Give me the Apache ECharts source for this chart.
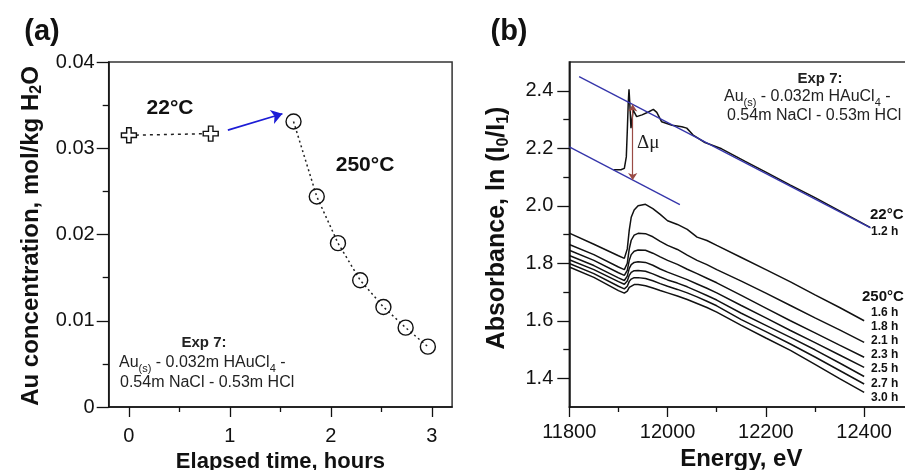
<!DOCTYPE html>
<html><head><meta charset="utf-8">
<script src="https://cdn.jsdelivr.net/npm/echarts@6/dist/echarts.min.js"></script>
<style>html,body{margin:0;padding:0;background:#fff}#c{width:905px;height:470px}</style>
</head><body><div id="c"></div>
<script>
// ---------- Panel (a): Au concentration vs elapsed time ----------
const timeCross = [0, 0.81];
const concCross = [0.0315, 0.0317];
const timeCircle = [1.63, 1.86, 2.07, 2.29, 2.52, 2.74, 2.96];
const concCircle = [0.0331, 0.0244, 0.0190, 0.0147, 0.0116, 0.0092, 0.0070];
const arrowTime = [0.98, 1.52];
const arrowConc = [0.0321, 0.0340];
const aXTicks = [0, 1, 2, 3];
const aXMinor = [0.5, 1.5, 2.5];
const aYTicks = [0, 0.01, 0.02, 0.03, 0.04];
const aYMinor = [0.005, 0.015, 0.025, 0.035];

// ---------- Panel (b): XANES spectra ----------
const energy250 = [11800, 11850, 11900, 11912, 11918, 11922, 11926, 11932, 11940, 11955, 11970, 11985, 12000, 12020, 12040, 12060, 12080, 12100, 12150, 12200, 12250, 12300, 12350, 12400];
const abs16 = [1.905,1.866,1.826,1.817,1.850,1.915,1.960,1.985,2.000,2.005,1.990,1.970,1.948,1.935,1.918,1.891,1.879,1.862,1.820,1.778,1.735,1.690,1.646,1.600];
const abs18 = [1.865,1.830,1.787,1.778,1.800,1.850,1.880,1.898,1.904,1.903,1.892,1.876,1.862,1.848,1.828,1.810,1.795,1.778,1.738,1.696,1.653,1.610,1.568,1.525];
const abs21 = [1.845,1.810,1.767,1.758,1.775,1.810,1.830,1.842,1.846,1.845,1.835,1.822,1.810,1.796,1.779,1.764,1.748,1.732,1.688,1.644,1.600,1.558,1.515,1.473];
const abs23 = [1.827,1.792,1.749,1.740,1.755,1.782,1.795,1.803,1.805,1.803,1.793,1.780,1.769,1.756,1.743,1.728,1.713,1.697,1.653,1.610,1.566,1.524,1.481,1.438];
const abs25 = [1.812,1.778,1.736,1.727,1.738,1.758,1.768,1.774,1.775,1.772,1.763,1.752,1.742,1.731,1.718,1.703,1.688,1.672,1.626,1.584,1.542,1.499,1.453,1.406];
const abs27 = [1.799,1.764,1.720,1.711,1.720,1.737,1.745,1.750,1.750,1.747,1.739,1.729,1.720,1.709,1.697,1.683,1.668,1.652,1.604,1.562,1.519,1.474,1.427,1.380];
const abs30 = [1.787,1.751,1.705,1.696,1.703,1.716,1.722,1.726,1.726,1.722,1.714,1.705,1.697,1.686,1.674,1.660,1.646,1.630,1.584,1.540,1.497,1.448,1.399,1.351];
const energy22 = [11890, 11905, 11912, 11916, 11918, 11920, 11921.5, 11923, 11925.5, 11930, 11937, 11948, 11961, 11971, 11978, 11988, 12009, 12029, 12039, 12052, 12076, 12110, 12157, 12200, 12250, 12300, 12350, 12412];
const abs22 = [2.125,2.125,2.13,2.17,2.26,2.36,2.405,2.36,2.27,2.333,2.31,2.316,2.326,2.335,2.325,2.292,2.28,2.275,2.27,2.246,2.22,2.198,2.155,2.117,2.072,2.028,1.982,1.925];
const fitUpperE = [11820, 12413];
const fitUpperA = [2.449, 1.923];
const fitLowerE = [11800, 12025];
const fitLowerA = [2.205, 2.004];
const deltaMuE = [11929, 11929];
const deltaMuA = [2.352, 2.090];
const bXTicks = [11800, 12000, 12200, 12400];
const bXMinor = [11900, 12100, 12300];
const bYTicks = [1.4, 1.6, 1.8, 2.0, 2.2, 2.4];
const bYMinor = [1.5, 1.7, 1.9, 2.1, 2.3];
const curveLabels250 = ['1.6 h', '1.8 h', '2.1 h', '2.3 h', '2.5 h', '2.7 h', '3.0 h'];

const FONT = 'Liberation Sans, Arial, sans-serif';
const zip = (xs, ys) => xs.map((x, i) => [x, ys[i]]);
const curves250 = [abs16, abs18, abs21, abs23, abs25, abs27, abs30];

const chart = echarts.init(document.getElementById('c'), null, {renderer: 'canvas'});

function majorAxis(grid, min, max, pos, ticks, tickLen, margin, fmt, extra) {
  return Object.assign({
    type: 'value', gridIndex: grid, min: min, max: max, position: pos,
    axisLine: {show: true, onZero: false, lineStyle: {color: '#111', width: 1.5}},
    axisTick: {show: true, inside: false, length: tickLen, customValues: ticks, lineStyle: {color: '#111', width: 1.3}},
    axisLabel: {show: true, customValues: ticks, margin: margin, fontSize: 20, fontFamily: FONT, color: '#111', formatter: fmt},
    splitLine: {show: false}
  }, extra || {});
}
function minorAxis(grid, min, max, pos, ticks, tickLen) {
  return {
    type: 'value', gridIndex: grid, min: min, max: max, position: pos,
    axisLine: {show: false, onZero: false},
    axisTick: {show: true, inside: false, length: tickLen, customValues: ticks, lineStyle: {color: '#111', width: 1.3}},
    axisLabel: {show: false}, splitLine: {show: false}
  };
}

const crossPath = 'path://M3.5,0 H6.5 V3.5 H10 V6.5 H6.5 V10 H3.5 V6.5 H0 V3.5 H3.5 Z';

const series = [
  {
    type: 'line', xAxisIndex: 0, yAxisIndex: 0, data: zip(timeCross, concCross),
    symbol: crossPath, symbolSize: 15, showSymbol: true, z: 5,
    itemStyle: {color: '#fff', borderColor: '#111', borderWidth: 1.4},
    lineStyle: {color: '#222', width: 1.5, type: [3, 4]},
    markLine: {
      silent: true, symbol: ['none', 'arrow'], symbolSize: 11, label: {show: false},
      lineStyle: {color: '#1c1cd6', width: 1.6, type: 'solid'},
      data: [[{coord: [arrowTime[0], arrowConc[0]]}, {coord: [arrowTime[1], arrowConc[1]]}]]
    }
  },
  {
    type: 'line', xAxisIndex: 0, yAxisIndex: 0, data: zip(timeCircle, concCircle),
    symbol: 'circle', symbolSize: 15, showSymbol: true, z: 5,
    itemStyle: {color: 'rgba(0,0,0,0)', borderColor: '#111', borderWidth: 1.4},
    lineStyle: {color: '#222', width: 1.5, type: [2, 3]}
  },
  {
    type: 'line', xAxisIndex: 2, yAxisIndex: 2, data: zip(energy22, abs22),
    showSymbol: false, lineStyle: {color: '#111', width: 1.5}, z: 3
  }
];
curves250.forEach(function (c) {
  series.push({type: 'line', xAxisIndex: 2, yAxisIndex: 2, data: zip(energy250, c),
    showSymbol: false, lineStyle: {color: '#111', width: 1.5}, z: 3});
});
series.push({
  type: 'line', xAxisIndex: 2, yAxisIndex: 2, data: zip(fitUpperE, fitUpperA),
  showSymbol: false, lineStyle: {color: '#3535aa', width: 1.3}, z: 4,
  markLine: {
    silent: true, symbol: ['arrow', 'arrow'], symbolSize: 7, label: {show: false},
    lineStyle: {color: '#9a4b45', width: 1.2, type: 'solid'},
    data: [[{coord: [deltaMuE[0], deltaMuA[0]]}, {coord: [deltaMuE[1], deltaMuA[1]]}]]
  }
});
series.push({
  type: 'line', xAxisIndex: 2, yAxisIndex: 2, data: zip(fitLowerE, fitLowerA),
  showSymbol: false, lineStyle: {color: '#3535aa', width: 1.3}, z: 4
});

const sub = {fontFamily: FONT, fontSize: 11, lineHeight: 12, verticalAlign: 'bottom', fill: '#222'};
const nrm = {fontFamily: FONT, fontSize: 16, lineHeight: 22, fill: '#222'};
function txt(x, y, text, opts) {
  return {type: 'text', x: x, y: y, silent: true, z: 100,
    style: Object.assign({text: text, fill: '#111', font: 'bold 15px ' + FONT, align: 'left', verticalAlign: 'middle'}, opts || {})};
}
const subsLine = '{n|Au}{s|(s)}{n| - 0.032m HAuCl}{s|4}{n| -}';
const graphics = [
  txt(42, 32, '(a)', {font: 'bold 29px ' + FONT, align: 'center'}),
  txt(509, 32, '(b)', {font: 'bold 29px ' + FONT, align: 'center'}),
  // axis titles (y)
  {type: 'text', x: 31, y: 236, rotation: Math.PI / 2, silent: true,
    style: {text: '{t|Au concentration, mol/kg H}{s|2}{t|O}', align: 'center', verticalAlign: 'middle',
      rich: {t: {fontFamily: FONT, fontWeight: 'bold', fontSize: 24, lineHeight: 28, fill: '#111'},
             s: {fontFamily: FONT, fontWeight: 'bold', fontSize: 16, lineHeight: 14, verticalAlign: 'bottom', fill: '#111'}}}},
  {type: 'text', x: 497, y: 228, rotation: Math.PI / 2, silent: true,
    style: {text: '{t|Absorbance, ln (I}{s|0}{t|/I}{s|1}{t|)}', align: 'center', verticalAlign: 'middle',
      rich: {t: {fontFamily: FONT, fontWeight: 'bold', fontSize: 25, lineHeight: 29, fill: '#111'},
             s: {fontFamily: FONT, fontWeight: 'bold', fontSize: 16, lineHeight: 14, verticalAlign: 'bottom', fill: '#111'}}}},
  // panel (a) annotations
  txt(170, 108, '22°C', {font: 'bold 21px ' + FONT, align: 'center'}),
  txt(365, 165, '250°C', {font: 'bold 21px ' + FONT, align: 'center'}),
  txt(204, 343, 'Exp 7:', {font: 'bold 15px ' + FONT, align: 'center', fill: '#222'}),
  txt(119, 363, subsLine, {rich: {n: nrm, s: sub}}),
  txt(120, 383, '0.54m NaCl - 0.53m HCl', {font: '16px ' + FONT, fill: '#222'}),
  // panel (b) annotations
  txt(820, 79, 'Exp 7:', {font: 'bold 15px ' + FONT, align: 'center', fill: '#222'}),
  txt(724, 97, subsLine, {rich: {n: nrm, s: sub}}),
  txt(727, 116, '0.54m NaCl - 0.53m HCl', {font: '16px ' + FONT, fill: '#222'}),
  txt(637, 143, 'Δμ', {font: '19px Liberation Serif, DejaVu Serif, serif', fill: '#222'}),
  txt(870, 215, '22°C', {font: 'bold 15px ' + FONT}),
  txt(871, 232, '1.2 h', {font: 'bold 12px ' + FONT}),
  txt(862, 297, '250°C', {font: 'bold 15px ' + FONT})
];
const labelY = [313, 327, 341, 355, 369, 384, 398];
curveLabels250.forEach(function (l, i) { graphics.push(txt(871, labelY[i], l, {font: 'bold 12px ' + FONT})); });

chart.setOption({
  animation: false,
  backgroundColor: '#fff',
  grid: [
    {left: 108.7, top: 62, width: 343.4, height: 345, show: true, borderColor: '#333', borderWidth: 1.5,
     backgroundColor: 'rgba(0,0,0,0)', containLabel: false, outerBoundsMode: 'none'},
    {left: 569.3, top: 62, width: 344, height: 345, show: true, borderColor: '#333', borderWidth: 1.5,
     backgroundColor: 'rgba(0,0,0,0)', containLabel: false, outerBoundsMode: 'none'}
  ],
  xAxis: [
    majorAxis(0, -0.2, 3.2, 'bottom', aXTicks, 10, 19, function (v) { return String(v); },
      {name: 'Elapsed time, hours', nameLocation: 'middle', nameGap: 44,
       nameTextStyle: {fontFamily: FONT, fontWeight: 'bold', fontSize: 22, color: '#111'}}),
    minorAxis(0, -0.2, 3.2, 'bottom', aXMinor, 5),
    majorAxis(1, 11800, 12500, 'bottom', bXTicks, 10, 15, function (v) { return String(v); },
      {name: 'Energy, eV', nameLocation: 'middle', nameGap: 40, nameTextStyle: {fontFamily: FONT, fontWeight: 'bold', fontSize: 24, color: '#111'}}),
    minorAxis(1, 11800, 12500, 'bottom', bXMinor, 5)
  ],
  yAxis: [
    majorAxis(0, 0, 0.04, 'left', aYTicks, 12, 14, function (v) { return v === 0 ? '0' : v.toFixed(2); }),
    minorAxis(0, 0, 0.04, 'left', aYMinor, 6),
    majorAxis(1, 1.3, 2.5, 'left', bYTicks, 12, 16, function (v) { return v.toFixed(1); }),
    minorAxis(1, 1.3, 2.5, 'left', bYMinor, 6)
  ],
  series: series,
  graphic: graphics
});
</script></body></html>
